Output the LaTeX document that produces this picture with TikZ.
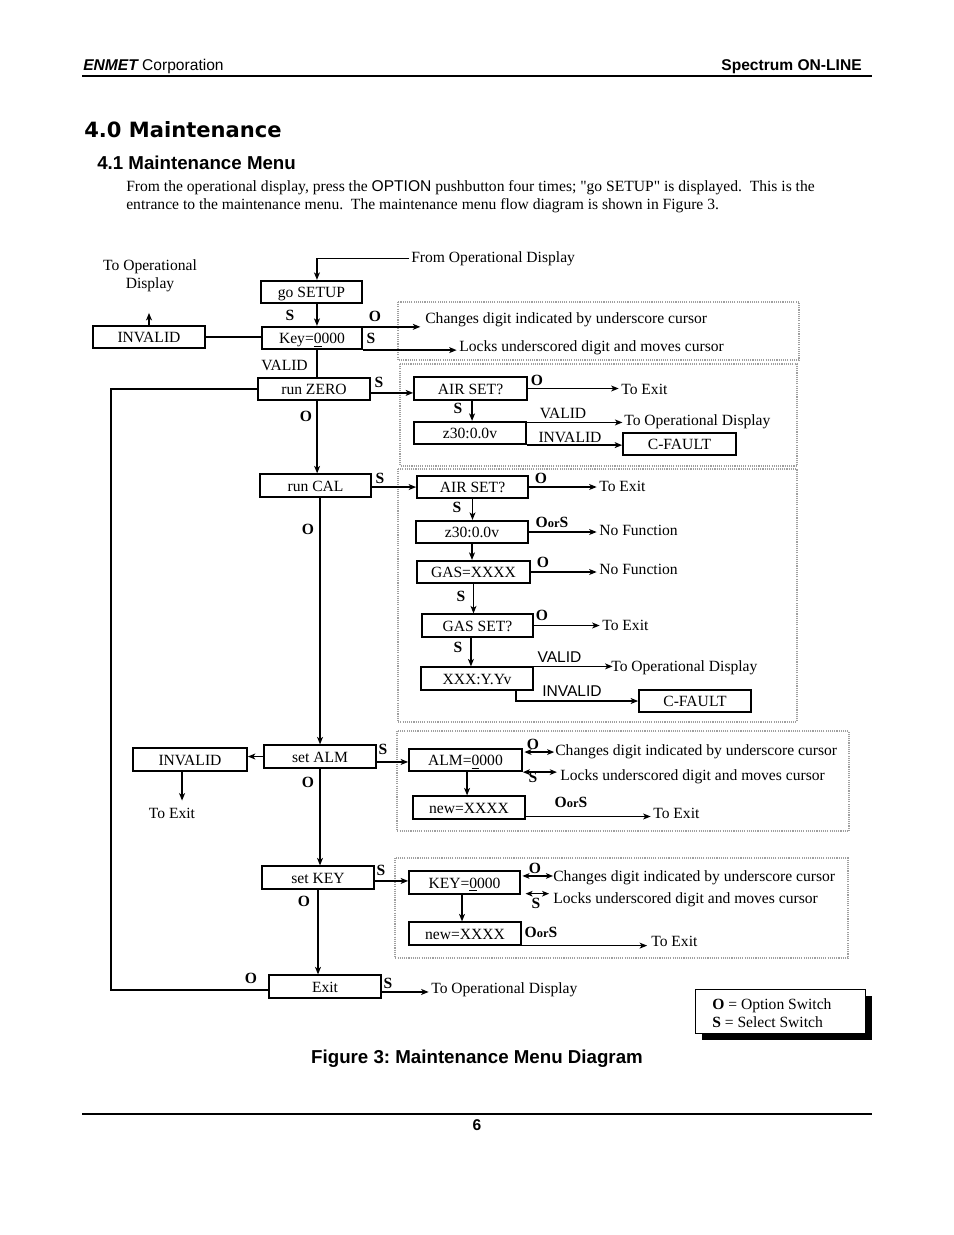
\documentclass[tikz,border=0pt]{standalone}
\usepackage{fontspec}
\setmainfont{Liberation Serif}
\newfontfamily\arial{Liberation Sans}
\newfontfamily\headfont{DejaVu Sans Bold}
\usetikzlibrary{arrows.meta,calc}
\newcommand\pxu{0.6415pt}
\newcommand\oors{\textbf{O}{\fontsize{8}{8}\selectfont\textbf{or}}\textbf{S}}
\begin{document}
\begin{tikzpicture}[x=0.6415pt,y=-0.6415pt,
  every node/.style={inner sep=0pt,font=\fontsize{10}{11.5}\selectfont},
  bx/.style={draw,line width=1.1pt,minimum width=#1*\pxu,minimum height=22.5*\pxu,text height=7.6pt,text depth=0pt},
  tx/.style={anchor=base west},
  lb/.style={font=\fontsize{10}{11.5}\selectfont\bfseries},
  sf/.style={font=\arial\fontsize{10}{11.5}\selectfont},
  arr/.style={line width=0.9pt,-{Stealth[length=4.8pt,width=3.8pt,inset=1.3pt]}},
  tarr/.style={arr,shorten >=1.5pt},
  darr/.style={line width=0.9pt,{Stealth[length=4.5pt,width=3.6pt,inset=1.2pt]}-{Stealth[length=4.5pt,width=3.6pt,inset=1.2pt]}},
  ln/.style={line width=0.9pt},
  dotbox/.style={draw=gray!75,line width=0.7pt,dash pattern=on 0.7pt off 0.7pt},
]
\useasboundingbox[fill=white] (0,0) rectangle (954,1235);

% ---------- page header / text ----------
\node[anchor=base west,font=\arial\fontsize{10}{12}\selectfont] (hdl) at (83,70) {{\bfseries\itshape ENMET} Corporation};
\node[anchor=base east,font=\arial\bfseries\fontsize{10}{12}\selectfont] (hdr) at (862,70) {Spectrum ON-LINE};
\draw[line width=1pt] (82,76) -- (872,76);
\node[anchor=base west,font=\headfont\fontsize{13.5}{16}\selectfont] (h1) at (84,137) {4.0 Maintenance};
\node[anchor=base west,font=\arial\bfseries\fontsize{12}{14}\selectfont] (h2) at (97,169) {4.1 Maintenance Menu};
\node[tx] (p1) at (126,191) {From the operational display, press the {\arial OPTION} pushbutton four times; \textquotedbl go SETUP\textquotedbl\ is displayed.\ \ This is the};
\node[tx] (p2) at (126,209) {entrance to the maintenance menu.\ \ The maintenance menu flow diagram is shown in Figure 3.};

% ---------- dotted groups ----------
\draw[dotbox] (398,302) rectangle (799,360);
\draw[dotbox] (400,364) rectangle (797,466);
\draw[dotbox] (398,469) rectangle (797,722);
\draw[dotbox] (397,731) rectangle (849,831);
\draw[dotbox] (395,858) rectangle (848,958);

% ---------- boxes ----------
\node[bx=101] (gosetup) at (311.5,292) {go SETUP};
\node[bx=100] (key) at (312,338) {Key=\underline{0}000};
\node[bx=112] (inv1) at (149,337) {INVALID};
\node[bx=112] (runzero) at (314,389) {run ZERO};
\node[bx=113] (air1) at (470.5,388.5) {AIR SET?};
\node[bx=112] (z1) at (470,433) {z30:0.0v};
\node[bx=113] (cf1) at (679.5,444) {C-FAULT};
\node[bx=111] (runcal) at (315.5,485.5) {run CAL};
\node[bx=111] (air2) at (472.5,487) {AIR SET?};
\node[bx=112] (z2) at (472,532) {z30:0.0v};
\node[bx=113] (gas) at (473.5,572) {GAS=XXXX};
\node[bx=111] (gasset) at (477.5,625.5) {GAS SET?};
\node[bx=112] (xxx) at (477,678.5) {XXX:Y.Yv};
\node[bx=112] (cf2) at (695,701) {C-FAULT};
\node[bx=112] (setalm) at (320,756.5) {set ALM};
\node[bx=114] (inv2) at (190,759.5) {INVALID};
\node[bx=113] (alm) at (465.5,760) {ALM=\underline{0}000};
\node[bx=112] (new1) at (469,807.5) {new=XXXX};
\node[bx=112] (setkey) at (318,877.5) {set KEY};
\node[bx=111] (keyb) at (464.5,882.5) {KEY=\underline{0}000};
\node[bx=112] (new2) at (465,933.5) {new=XXXX};
\node[bx=112] (exit) at (325,986.5) {Exit};

% ---------- free texts ----------
\node[tx] (fromop) at (411,262) {From Operational Display};
\node[align=center] (toop1) at (150,276) {To Operational\\Display};
\node[tx] (changes1) at (425,323) {Changes digit indicated by underscore cursor};
\node[tx] (locks1) at (459,351) {Locks underscored digit and moves cursor};
\node[tx] (toexit1) at (621,394) {To Exit};
\node[tx] (toop2) at (624,425) {To Operational Display};
\node[tx] (toexit2) at (599,491) {To Exit};
\node[tx] (nofunc1) at (599,535) {No Function};
\node[tx] (nofunc2) at (599,574) {No Function};
\node[tx] (toexit3) at (602,630) {To Exit};
\node[tx] (toop3) at (611,671) {To Operational Display};
\node (toexit4) at (172,813) {To Exit};
\node[tx] (changes2) at (555,755) {Changes digit indicated by underscore cursor};
\node[tx] (locks2) at (560,780) {Locks underscored digit and moves cursor};
\node[tx] (toexit5) at (653,818) {To Exit};
\node[tx] (changes3) at (553,881) {Changes digit indicated by underscore cursor};
\node[tx] (locks3) at (553,903) {Locks underscored digit and moves cursor};
\node[tx] (toexit6) at (651,946) {To Exit};
\node[tx] (toop4) at (431,993) {To Operational Display};

% ---------- labels ----------
\node (v1) at (284.5,365) {VALID};
\node (v2) at (563,413) {VALID};
\node (i2) at (570,437) {INVALID};
\node[sf] (v3) at (559.5,657) {VALID};
\node[sf] (i3) at (572,691) {INVALID};
\node[lb] (l1) at (290,315) {S};
\node[lb] (l2) at (375,316) {O};
\node[lb] (l3) at (371,338) {S};
\node[lb] (l4) at (379,382) {S};
\node[lb] (l5) at (537,380) {O};
\node[lb] (l6) at (458,408) {S};
\node[lb] (l7) at (306,416) {O};
\node[lb] (l8) at (380,478) {S};
\node[lb] (l9) at (541,478) {O};
\node[lb] (l10) at (457,507) {S};
\node (l11) at (552,522) {\oors};
\node[lb] (l12) at (543,562) {O};
\node[lb] (l13) at (461,596) {S};
\node[lb] (l14) at (542,615) {O};
\node[lb] (l15) at (458,647) {S};
\node[lb] (l16) at (308,529) {O};
\node[lb] (l17) at (383,749) {S};
\node[lb] (l18) at (533,744) {O};
\node[lb] (l19) at (533,777) {S};
\node (l20) at (571,802) {\oors};
\node[lb] (l21) at (308,782) {O};
\node[lb] (l22) at (381,870) {S};
\node[lb] (l23) at (535,868) {O};
\node[lb] (l24) at (536,903) {S};
\node (l25) at (541,932) {\oors};
\node[lb] (l26) at (304,901) {O};
\node[lb] (l27) at (251,978) {O};
\node[lb] (l28) at (388,983) {S};

% ---------- connectors ----------
\draw[arr] ([xshift=-1pt]fromop.west) -| ([xshift=3.5pt]gosetup.north);
\draw[arr] ([xshift=3.5pt]gosetup.south) -- ([xshift=3.5pt]gosetup.south |- key.north);
\draw[arr,shorten >=3pt] ([yshift=-0.6pt]key.north east) -- ([yshift=-0.6pt]key.north east -| changes1.west);
\draw[tarr] (key.south east) -- (key.south east -| locks1.west);
\draw[ln] (inv1.east) -- (inv1.east -| key.west);
\draw[arr] (inv1.north) -- ++(0,-12);
\draw[ln] ([xshift=3.2pt]key.south) -- ([xshift=3.2pt]key.south |- runzero.north);
\draw[arr] ([yshift=-2.5pt]runzero.east) -- ([yshift=-2.5pt]runzero.east -| air1.west);
\draw[tarr] (air1.east) -- (air1.east -| toexit1.west);
\draw[arr] ([xshift=1pt]air1.south) -- ([xshift=1pt]air1.south |- z1.north);
\draw[arr,shorten >=1pt] ([yshift=-1pt]z1.north east) -- ([yshift=-1pt]z1.north east -| toop2.west);
\draw[arr] (z1.south east) -- (z1.south east -| cf1.west);
\draw[arr] ([xshift=2pt]runzero.south) -- ([xshift=2pt]runzero.south |- runcal.north);
\draw[arr] ([yshift=-1pt]runcal.east) -- ([yshift=-1pt]runcal.east -| air2.west);
\draw[tarr] (air2.east) -- (air2.east -| toexit2.west);
\draw[arr] (air2.south) -- (air2.south |- z2.north);
\draw[tarr] (z2.east) -- (z2.east -| nofunc1.west);
\draw[arr] (z2.south) -- (z2.south |- gas.north);
\draw[tarr] (gas.east) -- (gas.east -| nofunc2.west);
\draw[arr] (gas.south) -- (gas.south |- gasset.north);
\draw[tarr] (gasset.east) -- (gasset.east -| toexit3.west);
\draw[arr] ([xshift=-4.2pt]gasset.south) -- ([xshift=-4.2pt]gasset.south |- xxx.north);
\draw[arr,shorten >=-1pt] (xxx.north east) -- (xxx.north east -| toop3.west);
\draw[arr] ([xshift=25pt]xxx.south) |- (cf2.west);
\draw[arr] ([xshift=2.9pt]runcal.south) -- ([xshift=2.9pt]runcal.south |- setalm.north);
\draw[arr] (setalm.west) -- (setalm.west -| inv2.east);
\draw[arr] ([xshift=-5.1pt]inv2.south) -- ++(0,29);
\draw[arr] ([yshift=-3.5pt]setalm.east) -- ([yshift=-3.5pt]setalm.east -| alm.west);
\draw[darr,shorten <=1pt,shorten >=0.5pt] ([yshift=5.1pt]alm.east) -- ([yshift=5.1pt]alm.east -| changes2.west);
\draw[darr,shorten >=2pt] (alm.south east) -- (alm.south east -| locks2.west);
\draw[arr] ([xshift=1pt]alm.south) -- ([xshift=1pt]alm.south |- new1.north);
\draw[tarr] ([yshift=2pt]new1.south east) -- ([yshift=2pt]new1.south east -| toexit5.west);
\draw[arr] (setalm.south) -- (setalm.south |- setkey.north);
\draw[arr] ([yshift=-2.2pt]setkey.east) -- ([yshift=-2.2pt]setkey.east -| keyb.west);
\draw[darr,shorten <=1pt] ([yshift=4.2pt]keyb.east) -- ([yshift=4.2pt]keyb.east -| changes3.west);
\draw[darr,shorten <=3pt,shorten >=2.5pt] ([yshift=0.6pt]keyb.south east) -- ([yshift=0.6pt]keyb.south east -| locks3.west);
\draw[arr] ([xshift=-1.6pt]keyb.south) -- ([xshift=-1.6pt]keyb.south |- new2.north);
\draw[arr,shorten >=2.5pt] (new2.south east) -- (new2.south east -| toexit6.west);
\draw[arr] (setkey.south) -- (setkey.south |- exit.north);
\coordinate (loopx) at (111,990);
\draw[ln] ([yshift=-2.2pt]exit.west) -- ([yshift=-2.2pt]exit.west -| loopx) |- (runzero.west);
\draw[tarr] ([yshift=-3.5pt]exit.east) -- ([yshift=-3.5pt]exit.east -| toop4.west);

% ---------- legend ----------
\fill (702,996) rectangle (872,1040);
\node[draw,fill=white,line width=0.5pt,minimum width=170*\pxu,minimum height=44*\pxu] (legend) at (780,1011) {};
\node[tx] (leg1) at (712,1009) {\textbf{O} = Option Switch};
\node[tx] (leg2) at (712,1027) {\textbf{S} = Select Switch};

% ---------- caption / footer ----------
\node[anchor=base,font=\arial\bfseries\fontsize{12}{14}\selectfont] (cap) at (477,1063) {Figure 3:\ Maintenance Menu Diagram};
\draw[line width=1pt] (82,1114) -- (872,1114);
\node[anchor=base,font=\arial\bfseries\fontsize{10}{12}\selectfont] (pg) at (477,1130) {6};
\end{tikzpicture}
\end{document}
